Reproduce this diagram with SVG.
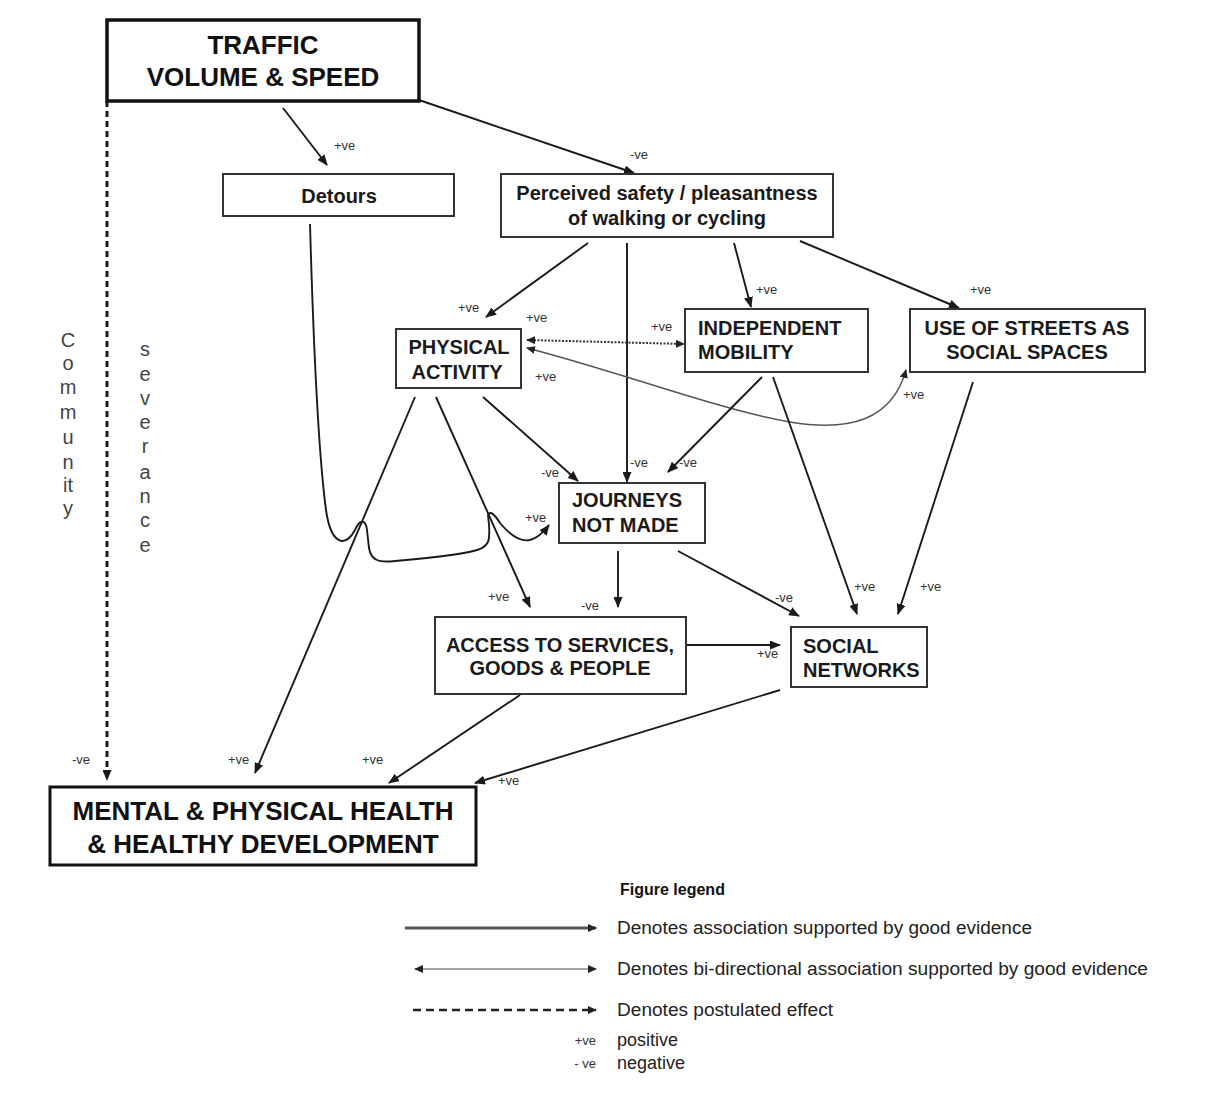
<svg xmlns="http://www.w3.org/2000/svg" width="1208" height="1097" viewBox="0 0 1208 1097">
<defs>
<marker id="ah" markerUnits="userSpaceOnUse" markerWidth="11" markerHeight="9" refX="10" refY="4.5" orient="auto-start-reverse"><path d="M0,0 L11,4.5 L0,9 z" fill="#1a1a1a"/></marker>
<marker id="ahs" markerUnits="userSpaceOnUse" markerWidth="9" markerHeight="8" refX="8" refY="4" orient="auto-start-reverse"><path d="M0,0 L9,4 L0,8 z" fill="#222"/></marker>
</defs>
<style>
.box{fill:#fff;stroke:#333;stroke-width:2}
.big{fill:#fff;stroke:#111;stroke-width:3.5}
.t{font-family:"Liberation Sans",Arial,sans-serif;font-weight:bold;font-size:20px;fill:#1a1a1a}
.tb{font-family:"Liberation Sans",Arial,sans-serif;font-weight:bold;font-size:26px;fill:#111}
.lab{font-family:"Liberation Sans",Arial,sans-serif;font-size:13px;fill:#333}
.vt{font-family:"Liberation Sans",Arial,sans-serif;font-size:20px;fill:#444;text-anchor:middle}
.lg{font-family:"Liberation Sans",Arial,sans-serif;font-size:18px;fill:#222}
.c{fill:none;stroke:#1a1a1a;stroke-width:1.9;marker-end:url(#ah)}
</style>
<rect width="1208" height="1097" fill="#fff"/>

<g id="connectors">
<path class="c" d="M283,108 L327,165"/>
<path class="c" d="M419,100 L634,173"/>
<path class="c" d="M310,224 C313,330 318,450 326,510 C331,545 345,548 355,530 C360,518 366,520 367,530 L369,548 C371,560 378,563 395,561 C430,558 470,553 480,549 C489,545 490,540 489,525 L488,515 C490,510 495,515 500,523 C510,535 520,542 530,540 C538,538 543,533 549,525"/>
<path class="c" d="M588,243 L486,317"/>
<path class="c" d="M627,243 L627,482"/>
<path class="c" d="M734,243 L751,307"/>
<path class="c" d="M800,241 L959,308"/>
<path d="M527,340 L684,344" fill="none" stroke="#333" stroke-width="2" stroke-dasharray="2 1.5" marker-start="url(#ahs)" marker-end="url(#ahs)"/>
<path d="M527,348 C620,372 720,410 790,422 C850,432 892,420 906,370" fill="none" stroke="#555" stroke-width="1.4" marker-start="url(#ahs)" marker-end="url(#ahs)"/>
<path class="c" d="M415,397 L255,773"/>
<path class="c" d="M436,397 L530,607"/>
<path class="c" d="M483,397 L578,481"/>
<path class="c" d="M762,377 L668,472"/>
<path class="c" d="M773,377 L857,614"/>
<path class="c" d="M973,382 L898,614"/>
<path class="c" d="M618,551 L618,607"/>
<path class="c" d="M678,551 L799,616"/>
<path class="c" d="M686,645 L780,645"/>
<path class="c" d="M520,695 L389,783"/>
<path class="c" d="M780,690 L475,783"/>
<path class="c" d="M107,101 L107,780" style="stroke-width:3;stroke-dasharray:6 4"/>
</g>

<g id="labels">
<text class="lab" x="334" y="150">+ve</text>
<text class="lab" x="630" y="159">-ve</text>
<text class="lab" x="458" y="312">+ve</text>
<text class="lab" x="526" y="322">+ve</text>
<text class="lab" x="651" y="331">+ve</text>
<text class="lab" x="535" y="381">+ve</text>
<text class="lab" x="756" y="294">+ve</text>
<text class="lab" x="970" y="294">+ve</text>
<text class="lab" x="903" y="399">+ve</text>
<text class="lab" x="541" y="477">-ve</text>
<text class="lab" x="630" y="467">-ve</text>
<text class="lab" x="679" y="467">-ve</text>
<text class="lab" x="525" y="522">+ve</text>
<text class="lab" x="488" y="601">+ve</text>
<text class="lab" x="581" y="610">-ve</text>
<text class="lab" x="775" y="602">-ve</text>
<text class="lab" x="854" y="591">+ve</text>
<text class="lab" x="920" y="591">+ve</text>
<text class="lab" x="757" y="658">+ve</text>
<text class="lab" x="72" y="764">-ve</text>
<text class="lab" x="228" y="764">+ve</text>
<text class="lab" x="362" y="764">+ve</text>
<text class="lab" x="498" y="785">+ve</text>
</g>

<g id="traffic">
<rect class="big" x="107" y="20" width="312" height="81"/>
<text class="tb" x="263" y="54" text-anchor="middle">TRAFFIC</text>
<text class="tb" x="263" y="86" text-anchor="middle">VOLUME &amp; SPEED</text>
</g>
<g id="detours">
<rect class="box" x="223" y="174" width="231" height="42"/>
<text class="t" x="339" y="203" text-anchor="middle">Detours</text>
</g>
<g id="perceived">
<rect class="box" x="501" y="174" width="332" height="63"/>
<text class="t" x="667" y="200" text-anchor="middle">Perceived safety / pleasantness</text>
<text class="t" x="667" y="225" text-anchor="middle">of walking or cycling</text>
</g>
<g id="physical">
<rect class="box" x="396" y="329" width="125" height="59"/>
<text class="t" x="459" y="354" text-anchor="middle">PHYSICAL</text>
<text class="t" x="457" y="379" text-anchor="middle">ACTIVITY</text>
</g>
<g id="independent">
<rect class="box" x="685" y="309" width="183" height="63"/>
<text class="t" x="698" y="335">INDEPENDENT</text>
<text class="t" x="698" y="359">MOBILITY</text>
</g>
<g id="streets">
<rect class="box" x="910" y="309" width="235" height="63"/>
<text class="t" x="1027" y="335" text-anchor="middle">USE OF STREETS AS</text>
<text class="t" x="1027" y="359" text-anchor="middle">SOCIAL SPACES</text>
</g>
<g id="journeys">
<rect class="box" x="559" y="483" width="146" height="60"/>
<text class="t" x="572" y="507">JOURNEYS</text>
<text class="t" x="572" y="532">NOT MADE</text>
</g>
<g id="access">
<rect class="box" x="435" y="617" width="251" height="77"/>
<text class="t" x="560" y="652" text-anchor="middle">ACCESS TO SERVICES,</text>
<text class="t" x="560" y="675" text-anchor="middle">GOODS &amp; PEOPLE</text>
</g>
<g id="social">
<rect class="box" x="791" y="627" width="136" height="60"/>
<text class="t" x="803" y="653">SOCIAL</text>
<text class="t" x="803" y="677">NETWORKS</text>
</g>
<g id="health">
<rect class="big" x="50" y="787" width="426" height="78" style="stroke-width:3"/>
<text class="tb" x="263" y="820" text-anchor="middle">MENTAL &amp; PHYSICAL HEALTH</text>
<text class="tb" x="263" y="853" text-anchor="middle">&amp; HEALTHY DEVELOPMENT</text>
</g>

<g id="severance">
<text class="vt" x="68" y="347">C</text>
<text class="vt" x="68" y="370">o</text>
<text class="vt" x="68" y="394">m</text>
<text class="vt" x="68" y="419">m</text>
<text class="vt" x="68" y="444">u</text>
<text class="vt" x="68" y="469">n</text>
<text class="vt" x="68" y="492">it</text>
<text class="vt" x="68" y="515">y</text>
<text class="vt" x="145" y="356">s</text>
<text class="vt" x="145" y="381">e</text>
<text class="vt" x="145" y="405">v</text>
<text class="vt" x="145" y="429">e</text>
<text class="vt" x="145" y="453">r</text>
<text class="vt" x="145" y="479">a</text>
<text class="vt" x="145" y="503">n</text>
<text class="vt" x="145" y="527">c</text>
<text class="vt" x="145" y="552">e</text>
</g>

<g id="legend">
<text x="620" y="895" font-family="Liberation Sans, Arial, sans-serif" font-weight="bold" font-size="16" fill="#111">Figure legend</text>
<path d="M405,928 L596,928" stroke="#555" stroke-width="3" fill="none" marker-end="url(#ahs)"/>
<text class="lg" x="617" y="934" textLength="415" lengthAdjust="spacingAndGlyphs">Denotes association supported by good evidence</text>
<path d="M415,969 L596,969" stroke="#888" stroke-width="1.5" fill="none" marker-start="url(#ahs)" marker-end="url(#ahs)"/>
<text class="lg" x="617" y="975" textLength="531" lengthAdjust="spacingAndGlyphs">Denotes bi-directional association supported by good evidence</text>
<path d="M413,1010 L596,1010" stroke="#222" stroke-width="2.5" stroke-dasharray="8 5" fill="none" marker-end="url(#ahs)"/>
<text class="lg" x="617" y="1016" textLength="216" lengthAdjust="spacingAndGlyphs">Denotes postulated effect</text>
<text class="lab" x="596" y="1045" text-anchor="end">+ve</text>
<text class="lg" x="617" y="1046">positive</text>
<text class="lab" x="596" y="1068" text-anchor="end">- ve</text>
<text class="lg" x="617" y="1069">negative</text>
</g>
</svg>
